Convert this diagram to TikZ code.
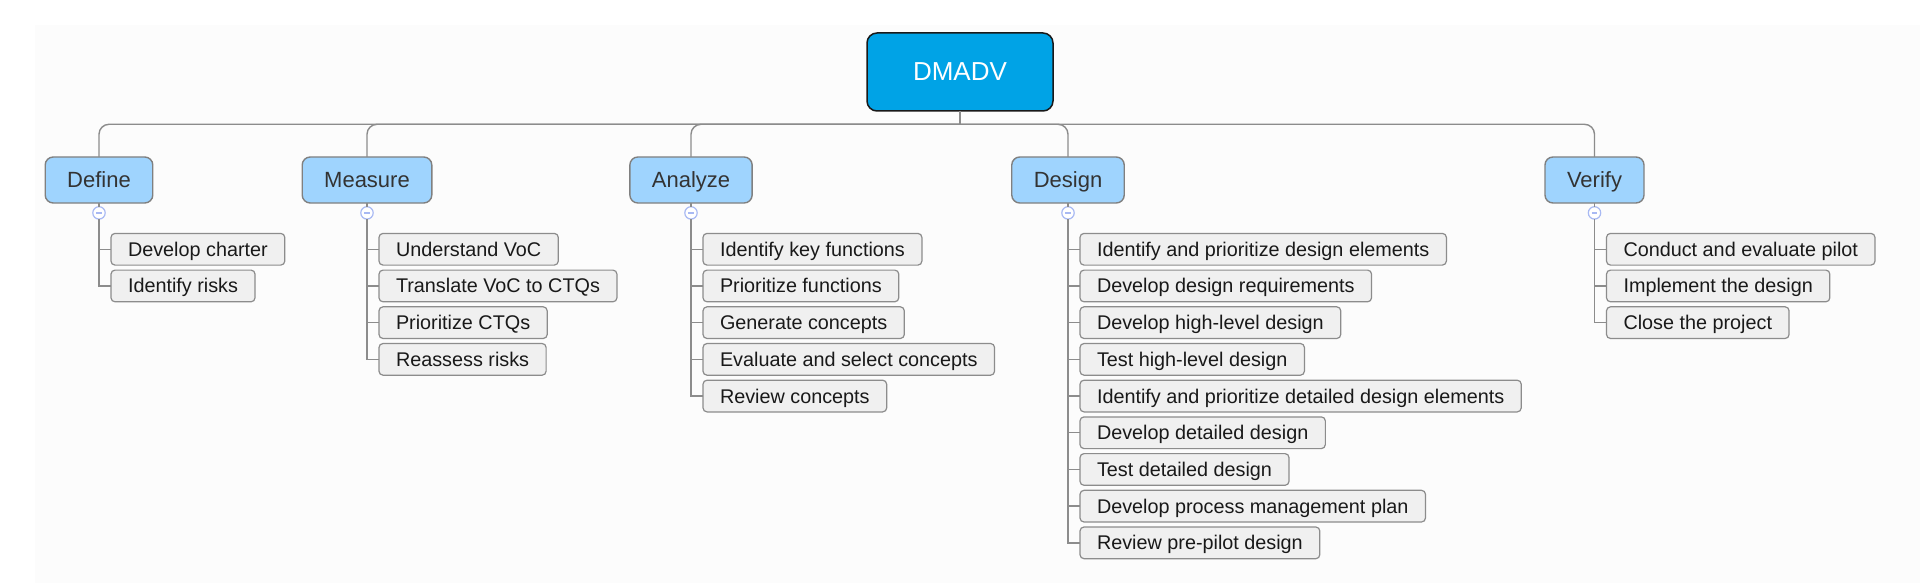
\documentclass[tikz,border=0pt]{standalone}
\usepackage{fontspec}
\setmainfont{Liberation Sans}
\usetikzlibrary{positioning}
\definecolor{rootblue}{HTML}{00A3E6}
\definecolor{phaseblue}{HTML}{9FD4FE}
\definecolor{taskgray}{HTML}{F0F0F0}
\definecolor{edgegray}{HTML}{8C8C8C}
\definecolor{togglering}{HTML}{A8B9F3}
\definecolor{bggray}{HTML}{FCFCFC}
\tikzstyle{root} = [rectangle, draw=black!90, line width=1.5pt, fill=rootblue,
    text=white, rounded corners=10pt, minimum width=186pt, minimum height=78pt,
    outer sep=0pt, font=\fontsize{26}{30}\selectfont]
\tikzstyle{phase} = [rectangle, draw=black!50, line width=1.4pt, fill=phaseblue,
    text=black!80, rounded corners=8pt, inner xsep=22pt, inner ysep=0pt,
    minimum height=46pt, text height=17pt, text depth=3pt, outer sep=0pt,
    font=\fontsize{22}{26}\selectfont]
\tikzstyle{task} = [rectangle, draw=edgegray, line width=1.2pt, fill=taskgray,
    text=black!90, rounded corners=4pt, inner xsep=17pt, inner ysep=0pt,
    minimum height=31.7pt, text height=16pt, text depth=2pt, outer sep=0pt,
    font=\fontsize{19.8}{23}\selectfont]
\begin{document}
\begin{tikzpicture}[
x = 1pt, y = -1pt,
link/.style = {draw=edgegray, line width=1.4pt},
toggle/.style = {circle, draw=togglering, line width=1.2pt, fill=white,
    minimum size=12.4pt, inner sep=0pt, outer sep=0pt,
    path picture={\draw[togglering, line width=1.3pt]
      ([xshift=-2.6pt]path picture bounding box.center) --
      ([xshift=2.6pt]path picture bounding box.center);}},
node distance = 5pt
                        ]
\useasboundingbox (0,0) rectangle (1920,583);
\fill[bggray] (35,25) rectangle (1920,583);

\node [root] (dmadv) at (960,72) {DMADV};
\coordinate [below=13.3pt of dmadv] (bus);

%level 2
\node [phase] (define) at (99,180) {Define};
\node [phase] (measure) at (367,180) {Measure};
\node [phase] (analyze) at (691,180) {Analyze};
\node [phase] (design) at (1068,180) {Design};
\node [phase] (verify) at (1594.5,180) {Verify};

\node [toggle, below=3.7pt of define] (define-t) {};
\node [toggle, below=3.7pt of measure] (measure-t) {};
\node [toggle, below=3.7pt of analyze] (analyze-t) {};
\node [toggle, below=3.7pt of design] (design-t) {};
\node [toggle, below=3.7pt of verify] (verify-t) {};

%level 3 define
\node [task, below right=14.3pt and 12pt of define-t.south] (define-1) {Develop charter};
\node [task, below=of define-1.south west, anchor=north west] (define-2) {Identify risks};

%level 3 measure
\node [task, below right=14.3pt and 12pt of measure-t.south] (measure-1) {Understand VoC};
\node [task, below=of measure-1.south west, anchor=north west] (measure-2) {Translate VoC to CTQs};
\node [task, below=of measure-2.south west, anchor=north west] (measure-3) {Prioritize CTQs};
\node [task, below=of measure-3.south west, anchor=north west] (measure-4) {Reassess risks};

%level 3 analyze
\node [task, below right=14.3pt and 12pt of analyze-t.south] (analyze-1) {Identify key functions};
\node [task, below=of analyze-1.south west, anchor=north west] (analyze-2) {Prioritize functions};
\node [task, below=of analyze-2.south west, anchor=north west] (analyze-3) {Generate concepts};
\node [task, below=of analyze-3.south west, anchor=north west] (analyze-4) {Evaluate and select concepts};
\node [task, below=of analyze-4.south west, anchor=north west] (analyze-5) {Review concepts};

%level 3 design
\node [task, below right=14.3pt and 12pt of design-t.south] (design-1) {Identify and prioritize design elements};
\node [task, below=of design-1.south west, anchor=north west] (design-2) {Develop design requirements};
\node [task, below=of design-2.south west, anchor=north west] (design-3) {Develop high-level design};
\node [task, below=of design-3.south west, anchor=north west] (design-4) {Test high-level design};
\node [task, below=of design-4.south west, anchor=north west] (design-5) {Identify and prioritize detailed design elements};
\node [task, below=of design-5.south west, anchor=north west] (design-6) {Develop detailed design};
\node [task, below=of design-6.south west, anchor=north west] (design-7) {Test detailed design};
\node [task, below=of design-7.south west, anchor=north west] (design-8) {Develop process management plan};
\node [task, below=of design-8.south west, anchor=north west] (design-9) {Review pre-pilot design};

%level 3 verify
\node [task, below right=14.3pt and 12pt of verify-t.south] (verify-1) {Conduct and evaluate pilot};
\node [task, below=of verify-1.south west, anchor=north west] (verify-2) {Implement the design};
\node [task, below=of verify-2.south west, anchor=north west] (verify-3) {Close the project};

% connectors
\draw [link] (dmadv) -- (bus);
\draw [link, rounded corners=10pt] (bus) -| (define.north);
\draw [link, rounded corners=10pt] (bus) -| (measure.north);
\draw [link, rounded corners=10pt] (bus) -| (analyze.north);
\draw [link, rounded corners=10pt] (bus) -| (design.north);
\draw [link, rounded corners=10pt] (bus) -| (verify.north);

\draw [link] (define) -- (define-t);
\draw [link] (measure) -- (measure-t);
\draw [link] (analyze) -- (analyze-t);
\draw [link] (design) -- (design-t);
\draw [link] (verify) -- (verify-t);

\draw [link] (define-t) |- (define-1.west);
\draw [link] (define-t) |- (define-2.west);
\draw [link] (measure-t) |- (measure-1.west);
\draw [link] (measure-t) |- (measure-2.west);
\draw [link] (measure-t) |- (measure-3.west);
\draw [link] (measure-t) |- (measure-4.west);
\draw [link] (analyze-t) |- (analyze-1.west);
\draw [link] (analyze-t) |- (analyze-2.west);
\draw [link] (analyze-t) |- (analyze-3.west);
\draw [link] (analyze-t) |- (analyze-4.west);
\draw [link] (analyze-t) |- (analyze-5.west);
\draw [link] (design-t) |- (design-1.west);
\draw [link] (design-t) |- (design-2.west);
\draw [link] (design-t) |- (design-3.west);
\draw [link] (design-t) |- (design-4.west);
\draw [link] (design-t) |- (design-5.west);
\draw [link] (design-t) |- (design-6.west);
\draw [link] (design-t) |- (design-7.west);
\draw [link] (design-t) |- (design-8.west);
\draw [link] (design-t) |- (design-9.west);
\draw [link] (verify-t) |- (verify-1.west);
\draw [link] (verify-t) |- (verify-2.west);
\draw [link] (verify-t) |- (verify-3.west);
\end{tikzpicture}
\end{document}
